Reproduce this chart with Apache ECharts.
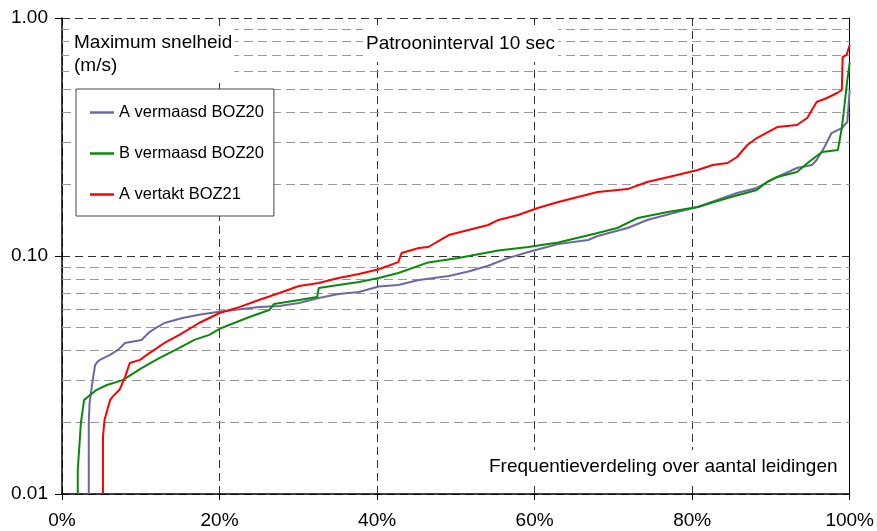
<!DOCTYPE html>
<html>
<head>
<meta charset="utf-8">
<script src="https://cdn.jsdelivr.net/npm/echarts@6/dist/echarts.min.js"></script>
<style>
html,body{margin:0;padding:0;background:#fff;}
#chart{width:877px;height:531px;}
</style>
</head>
<body>
<div id="chart"></div>
<script>
// ---- data (x = % of pipes, y = max velocity m/s) ----
const seriesNames = ['A vermaasd BOZ20', 'B vermaasd BOZ20', 'A vertakt BOZ21'];

const dataA_vermaasd = [
  [3.4,0.010],[3.4,0.0199],[3.5,0.0241],[3.9,0.0301],[4.2,0.0348],[4.5,0.0359],[4.8,0.0366],
  [6.1,0.0384],[7.1,0.0403],[8.0,0.0431],[10.1,0.0444],[11.1,0.0479],[12.1,0.0503],[13.0,0.0523],
  [15.3,0.0549],[17.4,0.0566],[19.7,0.0582],[25.0,0.0610],[27.6,0.0616],[30.1,0.0635],[32.6,0.0666],
  [35.1,0.0692],[37.7,0.0706],[40.2,0.0745],[42.7,0.0755],[45.3,0.0793],[49.1,0.0824],[51.6,0.0861],
  [54.1,0.0910],[56.6,0.0980],[59.2,0.1039],[63.0,0.1123],[66.8,0.1167],[68.0,0.1213],[71.8,0.1311],
  [74.3,0.1417],[78.1,0.1531],[80.7,0.1606],[83.2,0.1719],[85.7,0.1839],[88.2,0.1931],[90.8,0.2148],
  [93.3,0.2343],[95.2,0.2411],[95.8,0.2531],[96.8,0.2871],[97.7,0.3286],[99.0,0.3449],[99.7,0.3656],
  [100,0.50]
];

const dataB_vermaasd = [
  [2.0,0.010],[2.0,0.0126],[2.4,0.0199],[2.8,0.0248],[3.3,0.0256],[4.4,0.0274],[5.7,0.0287],
  [7.7,0.0301],[10.1,0.0338],[12.4,0.0373],[14.9,0.0411],[16.8,0.0444],[18.7,0.0466],[20.0,0.0494],
  [21.2,0.0513],[23.8,0.0554],[26.3,0.0593],[26.9,0.0628],[30.1,0.0653],[32.4,0.0673],[32.6,0.0734],
  [35.1,0.0755],[37.7,0.0778],[40.2,0.0808],[42.7,0.0848],[46.5,0.0940],[50.3,0.0981],[55.4,0.1055],
  [59.2,0.1091],[63.0,0.1140],[68.0,0.1249],[70.5,0.1311],[73.1,0.1445],[76.9,0.1531],[80.7,0.1606],
  [84.5,0.1752],[88.2,0.1894],[89.5,0.2047],[90.8,0.2148],[93.3,0.2254],[94.8,0.2483],[96.5,0.2735],
  [98.5,0.2790],[99.0,0.3449],[99.3,0.4200],[99.7,0.5500],[100,0.6500]
];

const dataA_vertakt = [
  [5.2,0.010],[5.2,0.0174],[5.4,0.0205],[6.1,0.0248],[6.4,0.0256],[7.3,0.0274],[8.0,0.0310],
  [8.6,0.0355],[9.9,0.0366],[11.1,0.0391],[13.0,0.0431],[14.9,0.0466],[17.4,0.0523],[20.0,0.0576],
  [22.5,0.0610],[25.0,0.0653],[27.6,0.0699],[30.1,0.0748],[32.6,0.0770],[35.1,0.0808],[37.7,0.0840],
  [40.2,0.0880],[42.7,0.0943],[43.1,0.1029],[45.3,0.1080],[46.5,0.1091],[49.1,0.1225],[51.6,0.1286],
  [54.1,0.1350],[55.4,0.1417],[57.9,0.1487],[60.4,0.1591],[63.0,0.1686],[65.5,0.1770],[68.0,0.1857],
  [71.8,0.1910],[74.3,0.2047],[78.1,0.2189],[80.7,0.2298],[82.6,0.2411],[84.5,0.2459],[85.7,0.2606],
  [87.0,0.2927],[88.2,0.3131],[90.8,0.3483],[93.3,0.3551],[94.6,0.3800],[95.8,0.4436],[97.1,0.4611],
  [98.4,0.4841],[99.0,0.4982],[99.1,0.6858],[99.6,0.6993],[100,0.7702]
];

const minorGrid = [0.02,0.03,0.04,0.05,0.06,0.07,0.08,0.09,0.2,0.3,0.4,0.5,0.6,0.7,0.8,0.9];
const yMin = 0.01, yMax = 1.0;
const xMin = 0, xMax = 100, xStep = 20;

const FONT = '"Liberation Sans", Arial, sans-serif';
const colors = ['#6a6aa0', '#0a8a0a', '#ff0000'];

const chart = echarts.init(document.getElementById('chart'), null, {renderer:'canvas'});

const baseTitle = {
  backgroundColor: '#fff',
  textStyle: {fontFamily: FONT, fontSize: 19, fontWeight: 'normal', color: '#000', lineHeight: 23}
};

chart.setOption({
  animation: false,
  backgroundColor: '#fff',
  textStyle: {fontFamily: FONT},
  title: [
    Object.assign({}, baseTitle, {text: 'Maximum snelheid\n(m/s)', left: 69, top: 26, padding: [5, 2, 5, 5]}),
    Object.assign({}, baseTitle, {text: 'Patrooninterval 10 sec', left: 363, top: 25, padding: [7, 3, 7, 3]}),
    Object.assign({}, baseTitle, {text: 'Frequentieverdeling over aantal leidingen', left: 484, top: 450, padding: [5, 5, 6, 5]})
  ],
  legend: {
    orient: 'vertical',
    left: 76, top: 89,
    data: seriesNames.map(n => ({name: n, icon: 'rect'})),
    itemWidth: 24, itemHeight: 2.5, itemGap: 22,
    padding: [14, 10, 12, 14],
    backgroundColor: '#fff',
    borderColor: '#444', borderWidth: 1,
    textStyle: {fontFamily: FONT, fontSize: 16.5, color: '#000', lineHeight: 19}
  },
  grid: {left: 62, right: 24, top: 18, bottom: 37},
  xAxis: {
    type: 'value', min: xMin, max: xMax, interval: xStep,
    axisLine: {show: true, onZero: false, lineStyle: {color: '#000', width: 1.5}},
    axisTick: {show: true, length: 6, lineStyle: {color: '#000'}},
    axisLabel: {formatter: '{value}%', fontFamily: FONT, fontSize: 19, color: '#000', margin: 17},
    splitLine: {show: true, lineStyle: {type: [8, 5], color: '#333', width: 1}}
  },
  yAxis: [{
    type: 'log', logBase: 10, min: yMin, max: yMax,
    axisLine: {show: true, onZero: false, lineStyle: {color: '#000', width: 1.5}},
    axisTick: {show: true, length: 7, lineStyle: {color: '#000'}},
    axisLabel: {formatter: v => Number(v).toFixed(2), fontFamily: FONT, fontSize: 19, color: '#000', margin: 14},
    splitLine: {show: true, lineStyle: {type: [8, 5], color: '#333', width: 1}}
  }, {
    type: 'log', logBase: 10, min: yMin, max: yMax, position: 'right',
    axisLine: {show: true, onZero: false, lineStyle: {color: '#000', width: 1}},
    axisTick: {show: false}, axisLabel: {show: false}, splitLine: {show: false}
  }],
  series: [
    {
      name: seriesNames[0], type: 'line', data: dataA_vermaasd, symbol: 'none', showSymbol: false,
      color: colors[0], itemStyle: {color: colors[0]}, lineStyle: {width: 2, color: colors[0]},
      markLine: {
        silent: true, z: 1, symbol: ['none', 'none'], animation: false,
        label: {show: false},
        lineStyle: {type: [9, 5], color: '#999', width: 1},
        data: minorGrid.map(v => ({yAxis: v}))
      }
    },
    {
      name: seriesNames[1], type: 'line', data: dataB_vermaasd, symbol: 'none', showSymbol: false,
      color: colors[1], itemStyle: {color: colors[1]}, lineStyle: {width: 2, color: colors[1]}
    },
    {
      name: seriesNames[2], type: 'line', data: dataA_vertakt, symbol: 'none', showSymbol: false,
      color: colors[2], itemStyle: {color: colors[2]}, lineStyle: {width: 2, color: colors[2]}
    }
  ]
});
</script>
</body>
</html>
